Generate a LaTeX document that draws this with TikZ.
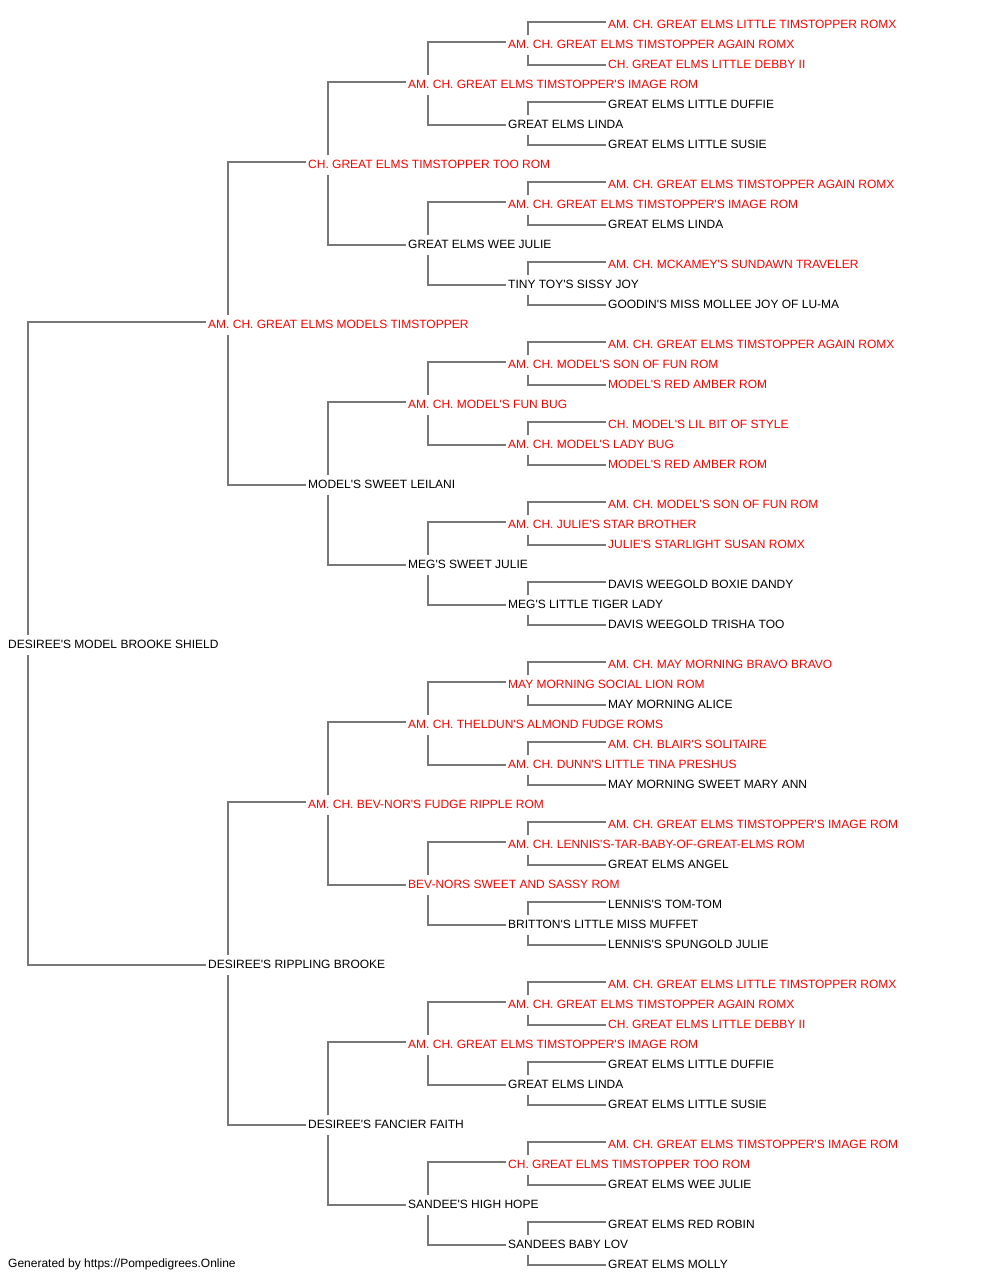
\documentclass[tikz,border=0pt]{standalone}
\usepackage{fontspec}
\setmainfont{Liberation Sans}[Ligatures=TeXOff]
\usetikzlibrary{calc}
\definecolor{lngray}{RGB}{120,120,120}
\definecolor{pedred}{RGB}{255,0,0}
\tikzset{
  nm/.style={anchor=west, inner xsep=0pt, inner ysep=0pt, text height=8.6pt, text depth=0pt, yshift=-1pt, font=\fontsize{12}{14}\selectfont},
  rd/.style={nm, text=pedred},
  bk/.style={nm, text=black},
  ln/.style={draw=lngray, line width=2pt}
}
\newcommand\pedup[2]{\draw[ln] ($(#1.west)+(20,-9)$) |- ($(#2.west)+(-2,-2)$);}
\newcommand\peddown[2]{\draw[ln] ($(#1.west)+(20,11)$) |- ($(#2.west)+(-2,1)$);}
\begin{document}
\begin{tikzpicture}[x=1pt,y=-1pt]
\useasboundingbox (0,0) rectangle (1000,1280);
% level 0
\node[bk] (n) at (8,643) {DESIREE'S MODEL BROOKE SHIELD};
% level 1
\node[rd] (n0) at (208,323) {AM. CH. GREAT ELMS MODELS TIMSTOPPER};
\node[bk] (n1) at (208,963) {DESIREE'S RIPPLING BROOKE};
% level 2
\node[rd] (n00) at (308,163) {CH. GREAT ELMS TIMSTOPPER TOO ROM};
\node[bk] (n01) at (308,483) {MODEL'S SWEET LEILANI};
\node[rd] (n10) at (308,803) {AM. CH. BEV-NOR'S FUDGE RIPPLE ROM};
\node[bk] (n11) at (308,1123) {DESIREE'S FANCIER FAITH};
% level 3
\node[rd] (n000) at (408,83) {AM. CH. GREAT ELMS TIMSTOPPER'S IMAGE ROM};
\node[bk] (n001) at (408,243) {GREAT ELMS WEE JULIE};
\node[rd] (n010) at (408,403) {AM. CH. MODEL'S FUN BUG};
\node[bk] (n011) at (408,563) {MEG'S SWEET JULIE};
\node[rd] (n100) at (408,723) {AM. CH. THELDUN'S ALMOND FUDGE ROMS};
\node[rd] (n101) at (408,883) {BEV-NORS SWEET AND SASSY ROM};
\node[rd] (n110) at (408,1043) {AM. CH. GREAT ELMS TIMSTOPPER'S IMAGE ROM};
\node[bk] (n111) at (408,1203) {SANDEE'S HIGH HOPE};
% level 4
\node[rd] (n0000) at (508,43) {AM. CH. GREAT ELMS TIMSTOPPER AGAIN ROMX};
\node[bk] (n0001) at (508,123) {GREAT ELMS LINDA};
\node[rd] (n0010) at (508,203) {AM. CH. GREAT ELMS TIMSTOPPER'S IMAGE ROM};
\node[bk] (n0011) at (508,283) {TINY TOY'S SISSY JOY};
\node[rd] (n0100) at (508,363) {AM. CH. MODEL'S SON OF FUN ROM};
\node[rd] (n0101) at (508,443) {AM. CH. MODEL'S LADY BUG};
\node[rd] (n0110) at (508,523) {AM. CH. JULIE'S STAR BROTHER};
\node[bk] (n0111) at (508,603) {MEG'S LITTLE TIGER LADY};
\node[rd] (n1000) at (508,683) {MAY MORNING SOCIAL LION ROM};
\node[rd] (n1001) at (508,763) {AM. CH. DUNN'S LITTLE TINA PRESHUS};
\node[rd] (n1010) at (508,843) {AM. CH. LENNIS'S-TAR-BABY-OF-GREAT-ELMS ROM};
\node[bk] (n1011) at (508,923) {BRITTON'S LITTLE MISS MUFFET};
\node[rd] (n1100) at (508,1003) {AM. CH. GREAT ELMS TIMSTOPPER AGAIN ROMX};
\node[bk] (n1101) at (508,1083) {GREAT ELMS LINDA};
\node[rd] (n1110) at (508,1163) {CH. GREAT ELMS TIMSTOPPER TOO ROM};
\node[bk] (n1111) at (508,1243) {SANDEES BABY LOV};
% level 5
\node[rd] (n00000) at (608,23) {AM. CH. GREAT ELMS LITTLE TIMSTOPPER ROMX};
\node[rd] (n00001) at (608,63) {CH. GREAT ELMS LITTLE DEBBY II};
\node[bk] (n00010) at (608,103) {GREAT ELMS LITTLE DUFFIE};
\node[bk] (n00011) at (608,143) {GREAT ELMS LITTLE SUSIE};
\node[rd] (n00100) at (608,183) {AM. CH. GREAT ELMS TIMSTOPPER AGAIN ROMX};
\node[bk] (n00101) at (608,223) {GREAT ELMS LINDA};
\node[rd] (n00110) at (608,263) {AM. CH. MCKAMEY'S SUNDAWN TRAVELER};
\node[bk] (n00111) at (608,303) {GOODIN'S MISS MOLLEE JOY OF LU-MA};
\node[rd] (n01000) at (608,343) {AM. CH. GREAT ELMS TIMSTOPPER AGAIN ROMX};
\node[rd] (n01001) at (608,383) {MODEL'S RED AMBER ROM};
\node[rd] (n01010) at (608,423) {CH. MODEL'S LIL BIT OF STYLE};
\node[rd] (n01011) at (608,463) {MODEL'S RED AMBER ROM};
\node[rd] (n01100) at (608,503) {AM. CH. MODEL'S SON OF FUN ROM};
\node[rd] (n01101) at (608,543) {JULIE'S STARLIGHT SUSAN ROMX};
\node[bk] (n01110) at (608,583) {DAVIS WEEGOLD BOXIE DANDY};
\node[bk] (n01111) at (608,623) {DAVIS WEEGOLD TRISHA TOO};
\node[rd] (n10000) at (608,663) {AM. CH. MAY MORNING BRAVO BRAVO};
\node[bk] (n10001) at (608,703) {MAY MORNING ALICE};
\node[rd] (n10010) at (608,743) {AM. CH. BLAIR'S SOLITAIRE};
\node[bk] (n10011) at (608,783) {MAY MORNING SWEET MARY ANN};
\node[rd] (n10100) at (608,823) {AM. CH. GREAT ELMS TIMSTOPPER'S IMAGE ROM};
\node[bk] (n10101) at (608,863) {GREAT ELMS ANGEL};
\node[bk] (n10110) at (608,903) {LENNIS'S TOM-TOM};
\node[bk] (n10111) at (608,943) {LENNIS'S SPUNGOLD JULIE};
\node[rd] (n11000) at (608,983) {AM. CH. GREAT ELMS LITTLE TIMSTOPPER ROMX};
\node[rd] (n11001) at (608,1023) {CH. GREAT ELMS LITTLE DEBBY II};
\node[bk] (n11010) at (608,1063) {GREAT ELMS LITTLE DUFFIE};
\node[bk] (n11011) at (608,1103) {GREAT ELMS LITTLE SUSIE};
\node[rd] (n11100) at (608,1143) {AM. CH. GREAT ELMS TIMSTOPPER'S IMAGE ROM};
\node[bk] (n11101) at (608,1183) {GREAT ELMS WEE JULIE};
\node[bk] (n11110) at (608,1223) {GREAT ELMS RED ROBIN};
\node[bk] (n11111) at (608,1263) {GREAT ELMS MOLLY};
% footer
\node[anchor=west, inner sep=0pt, yshift=-1pt, font=\fontsize{12}{14}\selectfont] (footer) at (8,1263) {Generated by https://Pompedigrees.Online};
% connectors
\foreach \p in {n,n0,n1,n00,n01,n10,n11,n000,n001,n010,n011,n100,n101,n110,n111,n0000,n0001,n0010,n0011,n0100,n0101,n0110,n0111,n1000,n1001,n1010,n1011,n1100,n1101,n1110,n1111}{
  \pedup{\p}{\p0}
  \peddown{\p}{\p1}
}
\end{tikzpicture}
\end{document}
